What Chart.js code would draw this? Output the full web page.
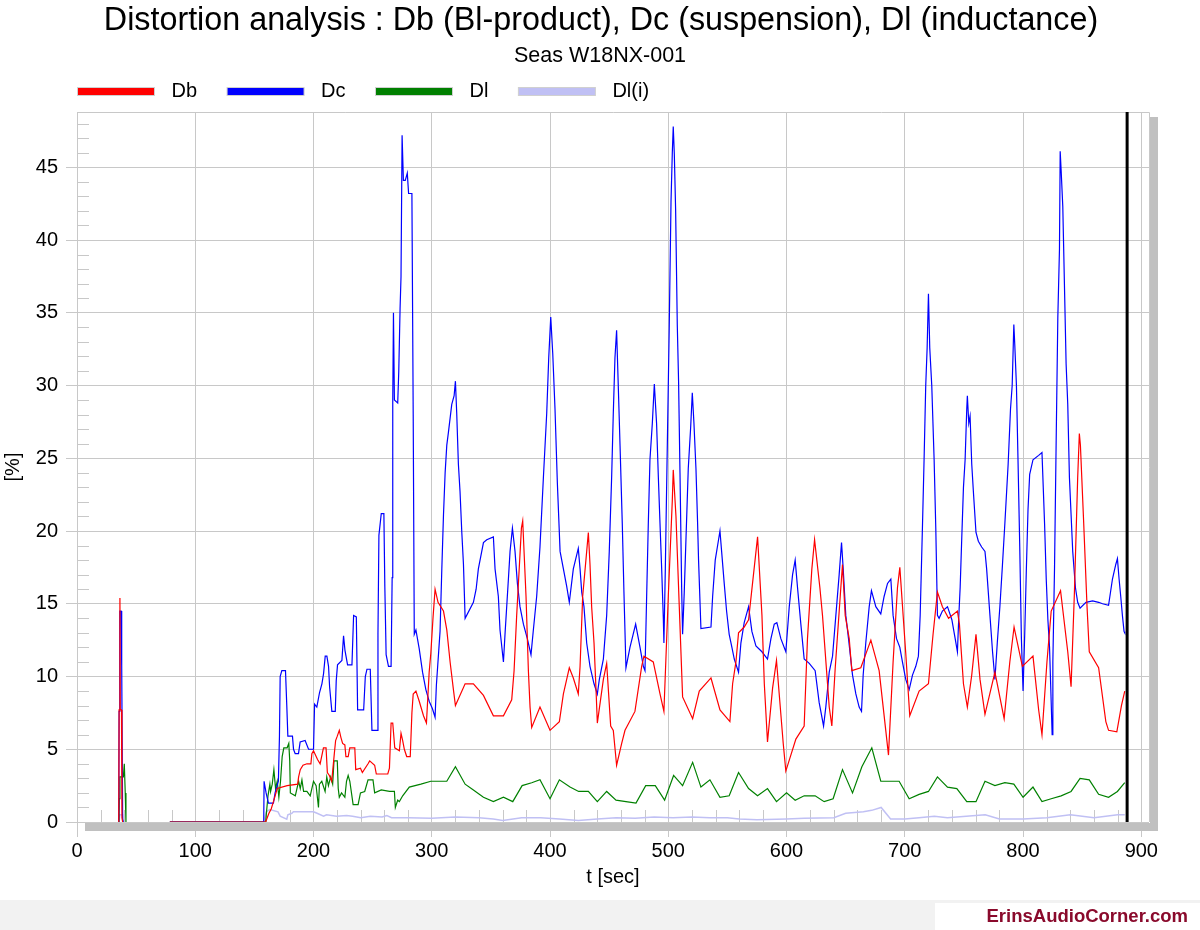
<!DOCTYPE html>
<html>
<head>
<meta charset="utf-8">
<title>Distortion analysis</title>
<script src="https://cdn.jsdelivr.net/npm/chart.js@4/dist/chart.umd.min.js"></script>
<style>
  html, body { margin: 0; padding: 0; background: #fff; }
  #wrap { width: 1200px; height: 930px; }
</style>
</head>
<body>
<div id="wrap"><canvas id="chart" width="1200" height="930"></canvas></div>
<script>
// values: [t in sec, distortion in %], null = gap in the record
const dbPoints = [
  [35.3,0],[35.6,7.7],[36.3,15.4],[36.6,7.7],[37.6,7.7],[38.0,0.3],[38.6,0],[50,null],
  [78.5,0],[158,0],[159.5,0],[162.3,0.6],[164.2,0.9],[166.5,1.5],[169.3,2.3],[177.7,2.5],
  [186.6,2.6],[187.4,3.1],[188.8,3.6],[191.1,3.9],[194.4,4.0],[197.8,4.0],[198.6,4.7],[200,4.9],
  [203.4,4.3],[205.6,4.0],[208.4,5.1],[210.6,5.1],[211.7,3.4],[213.4,3.2],[215.4,2.8],[217.6,4.7],
  [218.7,5.6],[220.1,5.9],[221.8,6.3],[223.2,5.8],[224.6,5.4],[226.5,5.3],[227.4,4.5],[229.3,4.5],
  [230.7,5.1],[234.9,5.1],[235.7,3.6],[239.7,3.7],[241.3,3.4],[246.1,4.0],[247.5,4.2],[251.7,3.9],
  [253.1,3.3],[262.8,3.3],[264.2,3.7],[265.6,6.8],[267,6.8],[268.7,5.1],[272.6,4.9],[274,6.1],
  [275.4,5.6],[276.8,5.0],[278.8,4.5],[281.8,4.5],[283.2,7.5],[284.3,8.8],[286.6,9.0],[289.4,8.3],
  [293,7.3],[295.5,6.8],[297.8,10.3],[299.2,11.6],[301.1,14.1],[302.8,16.0],[305.3,15.1],[309.9,14.5],
  [312.7,13.2],[315.5,11.0],[318.3,9.1],[320,8.0],[328.2,9.5],[335.2,9.5],[343.7,8.7],[352.1,7.3],
  [360.6,7.3],[367.6,8.4],[369.6,10.4],[371.8,14.2],[375.8,20.2],[376.9,20.7],[379.7,15.5],[381.7,10.4],
  [383.1,7.9],[384.5,6.5],[391.5,7.9],[400,6.3],[407.9,6.9],[411.3,8.8],[416.3,10.6],[419.7,9.9],
  [423.9,8.8],[425.4,10.7],[427.6,15.5],[431,18.6],[432.4,19.9],[433.8,17.7],[435.2,14.8],[437.2,12.3],
  [438.9,9.1],[440,6.8],[445.1,9.8],[447.9,10.9],[451.3,6.6],[453.5,6.3],[456.3,3.9],[460.6,5.4],
  [463.4,6.3],[471.8,7.6],[477.5,10.7],[479.4,11.4],[487.3,11.0],[493,8.8],[496.3,7.6],[500,15.5],
  [503.4,22.1],[504.2,24.2],[506.5,21.0],[509.3,14.8],[512.1,8.6],[520.6,7.1],[526.2,9.0],[536.1,9.9],
  [543.7,7.7],[552.1,6.9],[554.4,9.5],[557.2,11.0],[559.4,13.0],[564.2,13.4],[567.9,13.9],[575.5,19.6],
  [579.2,14.2],[581.2,9.5],[583.9,5.5],[588.2,9.2],[591.5,11.1],[597.2,5.4],[599.4,3.5],[607.9,5.7],
  [614.9,6.6],[617.7,12.6],[621.4,17.4],[623.7,19.4],[628.2,16.1],[630.4,14.2],[636.1,7.9],[638.3,6.6],
  [641.1,10.5],[645.9,16.1],[647.3,17.7],[649.6,14.2],[653,12.6],[655.2,10.4],[662.8,10.6],[671.3,12.5],
  [678.3,10.4],[683.9,6.3],[686.2,4.6],[690.1,11.0],[693.8,16.1],[695.8,17.5],[700.8,11.6],[704.2,7.3],
  [712.1,9.0],[720,9.5],[723.9,12.9],[727.6,15.8],[731.8,14.8],[737,14.0],[744.5,14.5],[746.2,13.6],
  [749.6,9.5],[752.9,7.9],[756.6,10.1],[760.2,12.9],[763.6,9.8],[767.8,7.4],[776.2,10.3],[784,7.1],
  [788.8,11.0],[792.4,13.4],[799.4,10.7],[808.4,11.4],[813.2,7.7],[816,6.0],[820.2,11.0],[823.8,14.5],
  [831.7,15.9],[837.8,11.7],[840.6,9.3],[843.4,15.7],[846.2,23.7],[847.6,26.7],[848.5,25.9],[851.3,20.5],
  [854.1,14.8],[856,11.7],[863.9,10.6],[870,6.9],[872.3,6.3],[879.3,6.2],[883.2,8.0],[886,9.0]
];

const dcPoints = [
  [35.3,0],[35.6,7.6],[36.2,14.5],[37.3,14.5],[37.8,10.8],[38.6,0.2],[39.2,0],[50,null],
  [78.5,0],[157.9,0],[158.2,2.8],[159.9,2.0],[161.9,1.3],[166.1,1.3],[167.5,2.0],[170.3,2.8],
  [171.2,5.9],[171.8,10.0],[173.2,10.4],[176.3,10.4],[177.4,8.0],[178.3,5.9],[182.2,5.9],[183.1,5.0],
  [184.5,4.7],[187.3,4.7],[188.7,5.5],[192.9,5.6],[195.8,5.0],[200,5.0],[200.9,8.1],[202.8,7.9],
  [205.1,8.9],[207.1,9.5],[208.5,10.2],[209.9,11.4],[211.3,11.4],[212.7,10.7],[213.6,9.3],[215.5,7.6],
  [218.4,7.6],[219.2,9.7],[220.3,10.8],[224,11.1],[225.4,12.8],[226.6,11.8],[228.8,10.8],[232.5,10.8],
  [233.9,14.2],[236.2,14.1],[237.3,7.7],[242.4,7.7],[243.8,10.0],[245.2,10.5],[248,10.5],[249.4,6.3],
  [253.7,6.3],[254.5,12.9],[255.3,19.7],[257.3,21.2],[259.5,21.2],[260.3,16.2],[261.4,11.5],[263.4,10.7],
  [265.6,10.7],[266.5,16.8],[267,28.8],[267.6,35.0],[268.4,29.0],[271.2,28.8],[272.1,31.0],[273.2,35.3],
  [274,37.5],[274.9,47.2],[276,44.1],[277.6,44.1],[279.3,44.6],[280.4,43.2],[283.2,43.2],[284.3,28.0],
  [285.2,12.9],[286.6,13.2],[289.4,11.9],[292.2,10.3],[295,9.1],[297.8,8.3],[300.5,7.8],[302.8,7.2],
  [303.9,9.4],[307,13.1],[308.5,17.4],[309.9,21.1],[311.3,24.0],[312.7,25.9],[314.1,26.8],[316.9,28.7],
  [318.9,29.3],[320,30.3],[321.1,28.1],[322.5,24.6],[323.9,22.7],[325.4,19.9],[326.8,17.7],[328.2,14.0],
  [335.2,15.1],[337.5,16.0],[339.4,17.4],[343.7,19.2],[346.5,19.4],[352.1,19.6],[353.5,17.4],[356.3,15.5],
  [357.7,13.2],[360.6,11.0],[362,13.0],[364.8,16.7],[366.2,18.6],[368.2,20.2],[370.4,18.6],[372.4,16.4],
  [374.6,14.8],[377.5,13.6],[380.8,12.6],[383.9,11.5],[385.9,13.2],[388.7,15.5],[391.5,18.9],[394.4,23.7],
  [397.2,28.1],[398.9,31.9],[400.6,34.7],[402.3,32.2],[404.2,28.4],[406.2,23.3],[408.5,18.6],[411.3,17.4],
  [414.1,16.2],[416.3,15.1],[419.7,17.4],[423.9,18.8],[425.4,17.4],[426.8,15.8],[428.7,14.8],[431,12.3],
  [433.8,10.7],[437.2,9.5],[440,8.8],[441.7,9.8],[445.1,11.2],[447.9,14.2],[450.1,18.6],[452.1,23.7],
  [453.5,28.1],[454.9,31.9],[456.3,33.8],[457.7,30.0],[459.2,25.9],[461.1,20.5],[462.5,15.8],[464.2,10.6],
  [467.6,12.0],[472.4,13.6],[476.1,12.0],[478.9,10.7],[480.3,10.4],[481.7,15.5],[483.1,20.5],[484.5,24.9],
  [486.5,27.4],[488.2,30.1],[490.1,27.4],[491.6,23.7],[493,20.5],[494.4,17.4],[495.8,14.0],[496.3,12.3],
  [497.5,17.4],[498.6,23.0],[500,30.0],[500.8,34.0],[502.3,42.6],[503.4,46.0],[504.2,47.8],[505.1,45.9],
  [506.2,42.1],[507.6,34.2],[508.7,30.3],[509.9,24.0],[511.3,16.1],[512.1,12.9],[513.5,15.8],[515.5,20.8],
  [516.9,24.3],[518.9,27.1],[520.3,29.5],[521.7,27.4],[523.4,24.3],[524.8,20.5],[525.6,18.0],[527.6,13.3],
  [536.1,13.4],[537.5,15.5],[539.7,18.0],[542.5,19.4],[543.7,20.0],[545.1,18.6],[547.3,16.4],[549.3,14.5],
  [551.5,12.9],[553.8,12.0],[555.8,11.2],[559.4,10.3],[561.4,12.3],[564.2,13.7],[567.9,14.8],[570.7,13.1],
  [574.1,12.1],[579.2,11.7],[583.9,11.2],[586.8,12.6],[589.6,13.6],[591.8,13.7],[595.2,12.6],[599.4,11.7],
  [602.3,14.8],[605.1,17.0],[607.3,18.0],[609.3,16.1],[612.1,13.6],[614.9,11.2],[619.2,10.9],[624.2,10.4],
  [627.6,8.2],[631.3,6.6],[633.2,7.9],[636.1,10.3],[638.9,11.4],[641.7,14.2],[644.5,17.0],[646.5,19.2],
  [647.9,17.4],[650.1,14.2],[652.4,12.6],[655.8,10.1],[658.6,8.8],[661.4,7.9],[663.4,7.6],[664.8,10.1],
  [667,12.3],[669.9,14.8],[671.8,15.9],[675.5,14.8],[679.7,14.3],[682.5,15.5],[685.4,16.4],[688.2,16.7],
  [690.1,14.2],[693,12.6],[695.8,12.0],[698,11.0],[700.8,9.8],[703.7,9.1],[706.5,10.1],[709.3,10.7],
  [711.5,11.4],[713,14.2],[714.9,20.2],[716.3,24.9],[717.7,30.0],[718.9,32.6],[720,36.3],[721.1,32.6],
  [722.8,30.0],[724.8,24.9],[726.2,20.2],[727.6,14.2],[729,14.0],[731.8,14.5],[736.1,14.8],[739.8,13.9],
  [742.6,12.6],[744.5,11.7],[745.7,14.2],[746.8,16.1],[748.2,19.6],[749.6,23.0],[751,24.9],[752.4,28.4],
  [752.9,29.3],[754.1,27.4],[755.2,27.9],[756.6,24.6],[758,22.7],[760.2,19.9],[762.2,19.3],[765,18.9],
  [767.8,18.6],[769.2,17.4],[772,14.2],[774.2,11.7],[776.2,9.8],[778.2,12.3],[780.4,14.8],[782.6,17.7],
  [784.6,20.5],[787.4,24.6],[789.4,28.4],[790.8,30.0],[792.2,34.2],[793,32.8],[794.4,30.0],[795.8,24.6],
  [797.2,18.9],[798.6,12.6],[800,9.0],[801.4,12.9],[802.8,17.4],[804.2,21.5],[805.6,23.9],[808.4,24.9],
  [813.2,25.2],[816,25.4],[818.2,20.5],[819.6,16.7],[821,13.9],[822.4,12.0],[823.8,8.2],[824.6,6.0],
  [825.2,11.0],[826.6,17.4],[828,26.2],[829.4,34.7],[830.8,39.4],[831.4,46.1],[832.2,44.8],[833.6,42.3],
  [835,36.9],[836.4,31.5],[837.8,28.7],[839.2,23.7],[842,18.6],[844.3,16.1],[846.2,15.1],[848.2,14.7],
  [853.2,15.1],[858.8,15.2],[863.9,15.1],[867.2,15.0],[872.3,14.9],[875.6,16.7],[878.4,17.7],[879.8,18.1],
  [881.2,16.7],[882.6,15.5],[884,14.2],[885.4,13.1],[886,13.0]
];

const dlPoints = [
  [35.5,0],[35.8,1.6],[36.3,3.1],[39.2,3.1],[40.0,4.0],[40.8,2.0],[41.4,0],[50,null],
  [78.5,0],[158,0],[159.5,0],[161.5,1.8],[163.1,2.6],[163.7,2.1],[165.1,2.6],[166.5,3.6],
  [167.9,2.3],[169.3,2.8],[170.7,1.7],[172.1,2.8],[173.5,4.5],[174.9,5.1],[177.7,5.1],[179.1,5.4],
  [179.9,4.2],[180.4,2.0],[184.6,1.8],[187.4,2.8],[188.8,2.3],[190.2,2.9],[191.6,2.1],[194.4,2.1],
  [197.2,1.8],[200,2.8],[202.2,2.5],[203.4,1.6],[204.2,1.0],[205,2.6],[207,2.8],[209.8,2.1],
  [211.2,3.1],[212.6,2.5],[214.5,3.1],[216.2,2.6],[217.3,4.2],[220.1,4.2],[220.9,2.3],[221.8,1.7],
  [223.7,2.0],[226.5,1.7],[227.9,2.8],[229.3,3.2],[230.7,2.8],[233.5,1.2],[237.7,1.2],[239.7,2.0],
  [243.3,2.1],[246.1,2.9],[250.3,2.9],[251.7,2.0],[257.3,2.2],[264.2,2.1],[268.4,2.1],[269.2,1.0],
  [271.2,1.5],[272.6,1.4],[275.4,1.8],[281,2.4],[290.8,2.6],[299.2,2.8],[307,2.8],[312.7,2.8],
  [320,3.8],[328.2,2.6],[335.2,2.2],[343.7,1.7],[352.1,1.4],[360.6,1.7],[368.5,1.4],[376.4,2.5],
  [384.5,2.7],[391.5,2.9],[400,1.6],[407.9,2.9],[416.9,2.4],[424.2,2.1],[432.4,2.1],[440,1.4],
  [447.9,2.1],[455.8,1.5],[464.2,1.4],[472.7,1.3],[480.9,2.5],[489,2.5],[496.9,1.5],[504.5,3.2],
  [512.1,2.5],[520.6,4.1],[527.6,2.4],[535.2,2.9],[543.7,1.7],[551.5,1.8],[559.4,3.4],[567.9,2.3],
  [575.5,1.8],[583.9,2.3],[591.5,1.4],[600,2.0],[607.3,1.5],[614.9,1.8],[624.2,1.8],[631.8,1.4],
  [639.4,1.6],[647.3,3.6],[655.8,2.0],[663.7,3.8],[672.1,5.1],[679.7,2.8],[687.6,2.8],[695.2,2.8],
  [703.7,1.6],[712.1,1.9],[720,2.1],[727.6,3.1],[736.1,2.4],[744,2.3],[752.4,1.4],[760.2,1.4],
  [767.8,2.8],[776.2,2.5],[784.6,2.7],[792.2,2.6],[800,1.7],[808.4,2.4],[816,1.4],[823.8,1.6],
  [832.2,1.8],[840.6,2.1],[848.2,3.0],[856,2.9],[863.9,1.9],[872.3,1.7],[879.8,2.1],[886,2.7]
];

const dliPoints = [
  [35.5,0],[36.2,0.5],[38.5,0.5],[39,0],[50,null],
  [78.5,0],[158,0],[160,0.7],[163,0.85],[170,0.7],[171.8,0.4],[177.4,0.2],[178.3,0.5],[181.7,0.6],
  [183,0.7],[200,0.7],[203,0.6],[208.5,0.4],[211,0.5],[219.5,0.4],[228,0.45],[233,0.4],[240,0.3],
  [248,0.4],[258,0.35],[262,0.45],[266,0.3],[280,0.3],[300,0.25],[320,0.35],[340,0.3],[352,0.2],
  [360,0.1],[376,0.3],[392,0.3],[408,0.2],[424,0.1],[440,0.2],[456,0.3],[472,0.25],[488,0.35],
  [504,0.3],[520,0.35],[535,0.3],[550,0.3],[560,0.2],[575,0.15],[600,0.2],[615,0.25],[640,0.3],
  [650,0.6],[665,0.7],[672,0.8],[680,1.0],[688,0.2],[700,0.2],[712,0.3],[725,0.4],[736,0.3],
  [768,0.5],[780,0.2],[800,0.2],[820,0.3],[840,0.5],[850,0.4],[860,0.3],[880,0.5],[886,0.5]
];

const seriesNames = ['Db', 'Dc', 'Dl', 'Dl(i)'];
const seriesColors = ['#ff0000', '#0000ff', '#008000', '#c0c0f4'];
const xTicks = [0, 100, 200, 300, 400, 500, 600, 700, 800, 900];
const yTicks = [0, 5, 10, 15, 20, 25, 30, 35, 40, 45];
const tMax = 906.5;
const pctMax = 48.8;
const cursorT = 888;

const titleText = 'Distortion analysis : Db (Bl-product), Dc (suspension), Dl (inductance)';
const subtitleText = 'Seas W18NX-001';
const footerText = 'ErinsAudioCorner.com';
const FONT = '"Liberation Sans", Arial, sans-serif';

const toXY = pts => pts.map(p => ({x: p[0], y: p[1]}));
const allPoints = [dbPoints, dcPoints, dlPoints, dliPoints];

// frame, shadow, minor ticks, cursor, titles, legend and footer
const decor = {
  id: 'decor',
  beforeDatasetsDraw(chart) {
    const {ctx, chartArea: a, scales: {x, y}} = chart;
    ctx.save();
    ctx.strokeStyle = '#c8c8c8';
    ctx.lineWidth = 1;
    ctx.beginPath();
    for (let v = 1; v < pctMax; v++) {
      if (v % 5 === 0) continue;
      const py = Math.round(y.getPixelForValue(v)) + 0.5;
      ctx.moveTo(a.left, py); ctx.lineTo(a.left + 12, py);
    }
    for (let t = 20; t < tMax; t += 20) {
      if (t % 100 === 0) continue;
      const px = Math.round(x.getPixelForValue(t)) + 0.5;
      ctx.moveTo(px, a.bottom); ctx.lineTo(px, a.bottom - 12);
    }
    ctx.moveTo(a.left, a.top + 0.5);
    ctx.lineTo(a.right + 0.5, a.top + 0.5);
    ctx.lineTo(a.right + 0.5, a.bottom);
    ctx.stroke();
    ctx.fillStyle = '#c0c0c0';
    ctx.fillRect(a.right + 1, a.top + 5, 8, a.bottom - a.top + 4);
    ctx.fillRect(a.left + 8, a.bottom + 1, a.right - a.left + 1, 8);
    ctx.restore();
  },
  afterDatasetsDraw(chart) {
    const {ctx, chartArea: a, scales: {x}} = chart;
    const px = x.getPixelForValue(cursorT);
    ctx.save();
    ctx.strokeStyle = '#000';
    ctx.lineWidth = 3;
    ctx.beginPath();
    ctx.moveTo(px, a.top); ctx.lineTo(px, a.bottom);
    ctx.stroke();
    ctx.restore();
  },
  afterDraw(chart) {
    const {ctx} = chart;
    ctx.save();
    ctx.fillStyle = '#000';
    ctx.textAlign = 'center';
    ctx.textBaseline = 'alphabetic';
    ctx.font = '32.3px ' + FONT;
    ctx.fillText(titleText, 601, 30);
    ctx.font = '21.5px ' + FONT;
    ctx.fillText(subtitleText, 600, 62);

    // legend
    ctx.textAlign = 'left';
    let lx = 77.5;
    chart.data.datasets.forEach(ds => {
      ctx.fillStyle = ds.borderColor;
      ctx.fillRect(lx, 88, 77, 7);
      ctx.strokeStyle = '#d0d0d0';
      ctx.lineWidth = 1;
      ctx.strokeRect(lx, 87.5, 77, 8);
      ctx.fillStyle = '#000';
      ctx.font = '20px ' + FONT;
      const tx = lx + 77 + 17;
      ctx.fillText(ds.label, tx, 97);
      lx = tx + ctx.measureText(ds.label).width + 30;
    });

    // footer band
    ctx.fillStyle = '#f2f2f2';
    ctx.fillRect(0, 900, 1200, 30);
    ctx.fillStyle = '#fff';
    ctx.fillRect(935, 903, 265, 27);
    ctx.fillStyle = '#8a0a2c';
    ctx.textAlign = 'right';
    ctx.font = 'bold 18.5px ' + FONT;
    ctx.fillText(footerText, 1188, 922);
    ctx.restore();
  }
};

const datasets = allPoints.map((pts, i) => ({
  label: seriesNames[i],
  data: toXY(pts),
  borderColor: seriesColors[i],
  backgroundColor: seriesColors[i],
  borderWidth: i === 3 ? 1.5 : 1.2,
  pointRadius: 0,
  tension: 0,
  spanGaps: false,
  fill: false
}));

new Chart(document.getElementById('chart'), {
  type: 'line',
  data: {datasets},
  options: {
    responsive: false,
    animation: false,
    devicePixelRatio: 1,
    layout: {padding: {top: 112, right: 51, bottom: 0, left: 0}},
    plugins: {legend: {display: false}, tooltip: {enabled: false}, title: {display: false}},
    scales: {
      x: {
        type: 'linear',
        min: 0,
        max: tMax,
        afterBuildTicks: s => { s.ticks = xTicks.map(v => ({value: v})); },
        afterFit: s => { s.height = 108; },
        ticks: {color: '#000', font: {family: FONT, size: 20}, padding: 2, maxRotation: 0, autoSkip: false},
        grid: {color: '#c8c8c8', lineWidth: 1, tickLength: 15},
        border: {display: false},
        title: {display: true, text: 't [sec]', color: '#000', font: {family: FONT, size: 20}, padding: {top: 0, bottom: 41}}
      },
      y: {
        type: 'linear',
        min: 0,
        max: pctMax,
        afterBuildTicks: s => { s.ticks = yTicks.map(v => ({value: v})); },
        afterFit: s => { s.width = 77; },
        ticks: {color: '#000', font: {family: FONT, size: 20}, padding: 8, autoSkip: false},
        grid: {color: '#c8c8c8', lineWidth: 1, tickLength: 11},
        border: {display: false},
        title: {display: true, text: '[%]', color: '#000', font: {family: FONT, size: 20}, padding: {top: 1, bottom: 0}}
      }
    }
  },
  plugins: [decor]
});
</script>
</body>
</html>
